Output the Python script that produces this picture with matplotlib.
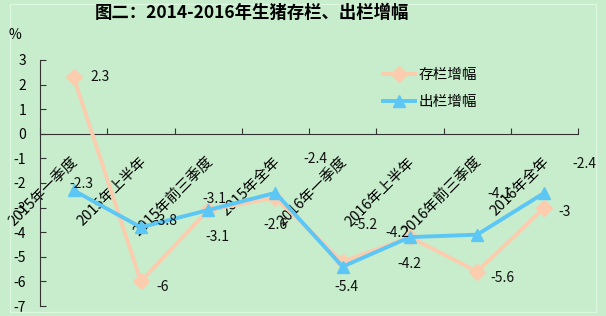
import matplotlib.pyplot as plt
from matplotlib.patches import Rectangle
import numpy as np

plt.rcParams['font.family'] = ['Noto Sans CJK SC', 'DejaVu Sans']

categories = ['2015年一季度', '2015年上半年', '2015年前三季度', '2015年全年',
              '2016年一季度', '2016年上半年', '2016年前三季度', '2016年全年']
cunlan = [2.3, -6, -3.1, -2.6, -5.2, -4.2, -5.6, -3]
chulan = [-2.3, -3.8, -3.1, -2.4, -5.4, -4.2, -4.1, -2.4]
yticks = [-7, -6, -5, -4, -3, -2, -1, 0, 1, 2, 3]

# label centre offsets in pixels (dx, dy) as placed in the original
off_c = [(26, 0), (22, -6), (9, -27), (0, -27), (23, 37), (0, -27), (25, -6), (20, -4)]
off_b = [(8, 6), (24, 6), (6, 11), (40, 34), (4, -20), (-12, 4), (22, 41), (40, 29)]

bg = '#C8EDCC'
orange = '#FBCDAE'
blue = '#5CC6F4'

fig = plt.figure(figsize=(6.06, 3.16), dpi=100, facecolor=bg)
fig.patches.append(Rectangle((10 / 606, 4 / 316), 586 / 606, 308 / 316,
                             transform=fig.transFigure, fill=False,
                             edgecolor='#DCF6DF', lw=1))
ax = fig.add_axes([40 / 606, 10 / 316, 538 / 606, 246 / 316])
ax.set_facecolor('none')

x = np.arange(len(categories)) + 0.5
ax.plot(x, cunlan, color=orange, lw=2.8, marker='D', ms=8, label='存栏增幅', zorder=3)
ax.plot(x, chulan, color=blue, lw=2.8, marker='^', ms=9, label='出栏增幅', zorder=4)

for vals, offs in ((cunlan, off_c), (chulan, off_b)):
    for xi, v, (dx, dy) in zip(x, vals, offs):
        ax.annotate(f'{v:g}', (xi, v), xytext=(dx * 0.72, dy * 0.72),
                    textcoords='offset points', ha='center', va='center',
                    fontsize=10, color='#111111', zorder=5)

ax.set_xlim(0, len(categories))
ax.set_ylim(-7, 3)
ax.spines['top'].set_visible(False)
ax.spines['right'].set_visible(False)
ax.spines['bottom'].set_position(('data', 0))
ax.spines['left'].set_color('#333333')
ax.spines['bottom'].set_color('#333333')

ax.set_yticks(yticks)
ax.set_yticklabels([str(t) for t in yticks])
ax.tick_params(axis='y', direction='in', length=4, pad=10, labelsize=10, color='#333333')

ax.set_xticks(np.arange(len(categories) + 1))
ax.set_xticklabels([])
ax.tick_params(axis='x', which='major', direction='in', length=4, color='#333333')
ax.set_xticks(x - 0.03, minor=True)
ax.set_xticklabels(categories, minor=True, rotation=45, ha='right', va='top',
                   rotation_mode='anchor', fontsize=10.5)
ax.tick_params(axis='x', which='minor', length=0, pad=15)

ax.legend(loc='upper left', bbox_to_anchor=(330 / 538, 1.02), frameon=False,
          fontsize=10.5, handlelength=2.2, labelspacing=0.9, handletextpad=0.2)

fig.text(252 / 606, 1 - 13 / 316, '图二：2014-2016年生猪存栏、出栏增幅',
         ha='center', va='center', fontsize=12.5, fontweight='bold')
fig.text(15 / 606, 1 - 35 / 316, '%', ha='center', va='center', fontsize=10)

fig.savefig('out.png', dpi=100, facecolor=bg)
